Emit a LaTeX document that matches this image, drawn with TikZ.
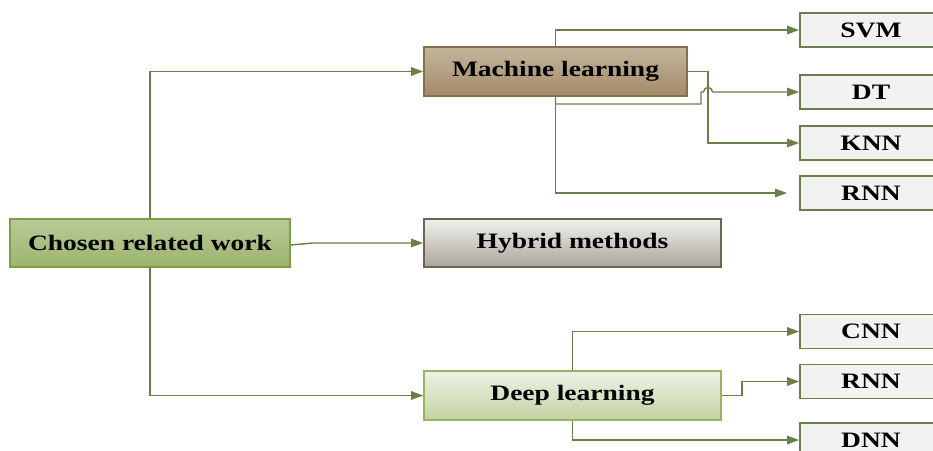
\documentclass[tikz,border=0pt]{standalone}
\usepackage{fontspec}
\setmainfont{Liberation Serif}[FakeStretch=1.25]
\usetikzlibrary{arrows.meta}
\definecolor{lineg}{HTML}{6B7F4A}
\definecolor{crwtop}{HTML}{B9CA98}
\definecolor{crwbot}{HTML}{9DB46E}
\definecolor{crwbd}{HTML}{7F9C4A}
\definecolor{mltop}{HTML}{C4B59D}
\definecolor{mlbot}{HTML}{A38B66}
\definecolor{mlbd}{HTML}{86704C}
\definecolor{hytop}{HTML}{F2F1EE}
\definecolor{hybot}{HTML}{A9A59A}
\definecolor{hybd}{HTML}{6D6551}
\definecolor{dltop}{HTML}{EDF2E6}
\definecolor{dlbot}{HTML}{C2D3A4}
\definecolor{dlbd}{HTML}{9BB35F}
\definecolor{leaffill}{HTML}{F2F2F0}
\definecolor{leafbd}{HTML}{6B7F4A}
\begin{document}
\begin{tikzpicture}[x=1pt,y=-1pt,
  mainbox/.style={draw, line width=1.8pt, inner sep=0pt, font=\fontsize{22}{24}\selectfont\bfseries},
  leafbox/.style={draw=leafbd, fill=leaffill, line width=1.8pt, inner sep=0pt, minimum width=142pt, minimum height=34pt, font=\fontsize{22}{24}\selectfont\bfseries},
  conn/.style={draw=lineg, line width=1.4pt, -{Triangle[length=12pt,width=8.5pt]}}]
\useasboundingbox (0,0) rectangle (933,450);
\clip (0,0) rectangle (933,450);

\node[mainbox, draw=crwbd, top color=crwtop, bottom color=crwbot, minimum width=280pt, minimum height=48pt] (crw) at (150,243) {Chosen related work};
\node[mainbox, draw=mlbd, top color=mltop, bottom color=mlbot, minimum width=263pt, minimum height=49pt] (ml) at (555.5,71.5) {Machine learning};
\node[mainbox, draw=hybd, top color=hytop, bottom color=hybot, minimum width=297pt, minimum height=48pt] (hy) at (572.5,243) {Hybrid methods};
\node[mainbox, draw=dlbd, top color=dltop, bottom color=dlbot, minimum width=297pt, minimum height=49pt] (dl) at (572.5,395.5) {Deep learning};

\node[leafbox] (svm) at (871,30) {SVM};
\node[leafbox] (dt) at (871,92) {DT};
\node[leafbox] (knn) at (871,143) {KNN};
\node[leafbox] (rnn) at (871,193) {RNN};
\node[leafbox] (cnn) at (871,331.5) {CNN};
\node[leafbox] (rnnb) at (871,381.5) {RNN};
\node[leafbox] (dnn) at (871,440) {DNN};

\coordinate (kx) at (708,0);
\coordinate (rx) at (742,0);

\draw[conn] (crw.north) -- (crw.north |- ml.west) -- (ml.west);
\draw[conn] (crw.south) -- (crw.south |- dl.west) -- (dl.west);
\draw[conn] ([yshift=-2pt]crw.east) -- ([xshift=22pt]crw.east) -- (hy.west);

\draw[conn] (ml.north) -- (ml.north |- svm.west) -- (svm.west);
\draw[conn] (ml.east) -- (ml.east -| kx) -- (kx |- knn.west) -- (knn.west);
\draw[conn] (ml.south) -- (555.5,104) -- (701,104) -- (701,92) -- (703.5,92)
  .. controls (703.5,86) and (712.5,86) .. (712.5,92) -- (dt.west);
\draw[conn] (ml.south) -- (ml.south |- rnn.west) -- ([xshift=-12pt]rnn.west);

\draw[conn] (dl.north) -- (dl.north |- cnn.west) -- (cnn.west);
\draw[conn] (dl.east) -- (dl.east -| rx) -- (rx |- rnnb.west) -- (rnnb.west);
\draw[conn] (dl.south) -- (dl.south |- dnn.west) -- (dnn.west);
\end{tikzpicture}
\end{document}
